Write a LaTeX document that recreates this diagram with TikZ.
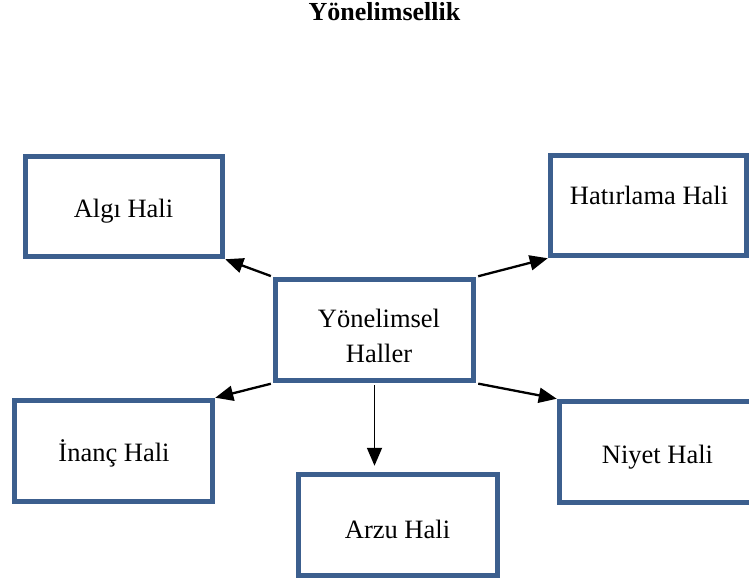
\documentclass[tikz,border=0pt]{standalone}
\usepackage{fontspec}
\setmainfont{Liberation Serif}
\usetikzlibrary{arrows.meta,calc}
\definecolor{boxblue}{HTML}{3C5F8E}
\begin{document}
\begin{tikzpicture}[x=1pt,y=-1pt,
  stbox/.style={draw=boxblue, line width=5.5pt, rectangle, inner sep=0pt, fill=white},
  lbl/.style={anchor=base, inner sep=0pt, font=\fontsize{26.5}{30}\selectfont},
  conn/.style={-{Triangle[length=18pt,width=15pt]}, line width=2.3pt, black}]
\useasboundingbox (0,0) rectangle (749,583);
% title
\node[lbl, font=\bfseries\fontsize{26}{30}\selectfont] (title) at (384.5,21) {Yönelimsellik};
% boxes (centre lines)
\node[stbox, minimum width=197pt, minimum height=100pt] (algi) at (124,206.5) {};
\node[stbox, minimum width=196pt, minimum height=100pt] (hat) at (648.5,205.5) {};
\node[stbox, minimum width=198pt, minimum height=101pt] (c) at (374.5,330) {};
\node[stbox, minimum width=198pt, minimum height=101pt] (inanc) at (113.5,451) {};
\node[stbox, minimum width=199pt, minimum height=101pt] (arzu) at (398,525) {};
\node[stbox, minimum width=201pt, minimum height=101pt] (niyet) at (660,452) {};
% texts
\node[lbl] (talgi) at (123.5,217) {Algı Hali};
\node[lbl] (that) at (649,204) {Hatırlama Hali};
\node[lbl] (tc1) at (379,327) {Yönelimsel};
\node[lbl] (tc2) at (379,362) {Haller};
\node[lbl] (tinanc) at (114,461) {İnanç Hali};
\node[lbl] (tarzu) at (397.5,538) {Arzu Hali};
\node[lbl] (tniyet) at (657.5,463) {Niyet Hali};
% connectors
\draw[conn, shorten <=2pt] (c.north west) -- (algi.south east);
\draw[conn, shorten <=2pt] (c.north east) -- (hat.south west);
\draw[conn, shorten <=2pt] (c.south west) -- (inanc.north east);
\draw[conn, shorten <=2pt] (c.south east) -- (niyet.north west);
\draw[conn, line width=1.8pt, shorten <=2pt, shorten >=6pt] (c.south) -- (c.south |- arzu.north);
\end{tikzpicture}
\end{document}
